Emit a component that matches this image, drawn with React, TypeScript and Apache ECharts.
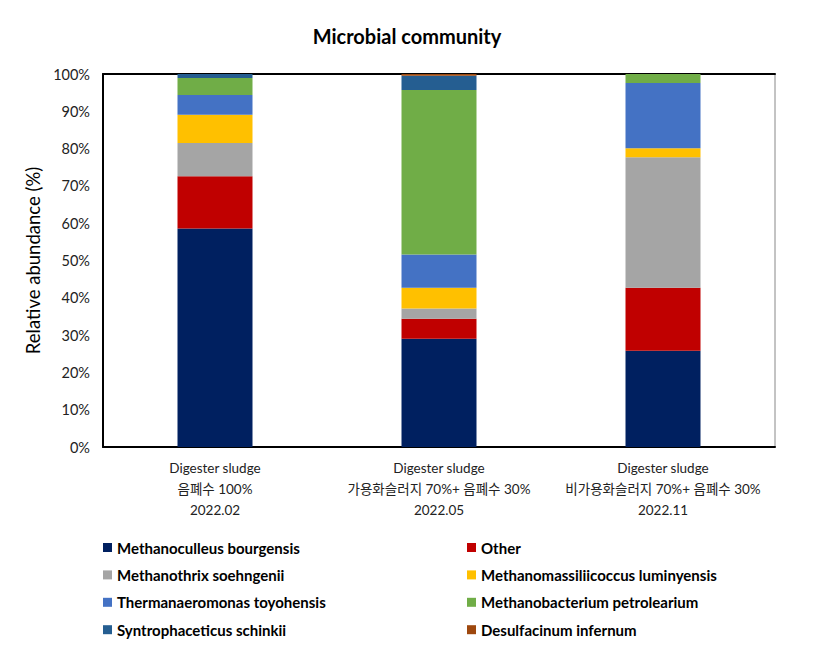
import React, { useEffect, useRef } from "react";
import * as echarts from "echarts";

const categories = [
  "Digester sludge\n음폐수 100%\n2022.02",
  "Digester sludge\n가용화슬러지 70%+ 음폐수 30%\n2022.05",
  "Digester sludge\n비가용화슬러지 70%+ 음폐수 30%\n2022.11",
];

const seriesNames = [
  "Methanoculleus bourgensis",
  "Other",
  "Methanothrix soehngenii",
  "Methanomassiliicoccus luminyensis",
  "Thermanaeromonas toyohensis",
  "Methanobacterium petrolearium",
  "Syntrophaceticus schinkii",
  "Desulfacinum infernum",
];

const methanoculleus = [58.6, 29.0, 25.8];
const other = [14.0, 5.4, 16.9];
const methanothrix = [8.9, 2.7, 35.0];
const methanomassiliicoccus = [7.6, 5.6, 2.4];
const thermanaeromonas = [5.3, 8.9, 17.5];
const methanobacterium = [4.5, 44.1, 2.4];
const syntrophaceticus = [1.1, 3.8, 0];
const desulfacinum = [0, 0.5, 0];

const seriesData = [
  methanoculleus,
  other,
  methanothrix,
  methanomassiliicoccus,
  thermanaeromonas,
  methanobacterium,
  syntrophaceticus,
  desulfacinum,
];

const colors = [
  "#002060",
  "#C00000",
  "#A5A5A5",
  "#FFC000",
  "#4472C4",
  "#70AD47",
  "#255E91",
  "#9E480E",
];

const FONT = "Lato, 'Noto Sans CJK KR', sans-serif";

export default function App() {
  const ref = useRef<HTMLDivElement>(null);
  useEffect(() => {
    if (!ref.current) return;
    const chart = echarts.init(ref.current, null, { renderer: "svg" });
    const legendText = {
      fontFamily: FONT,
      fontSize: 15,
      fontWeight: "bold" as const,
      color: "#000",
    };
    chart.setOption({
      animation: false,
      color: colors,
      title: {
        text: "Microbial community",
        left: "center",
        top: 21,
        textStyle: { fontFamily: FONT, fontSize: 20, fontWeight: "bold", color: "#000" },
      },
      grid: {
        left: 103,
        right: 39,
        top: 74,
        bottom: 219,
        show: true,
        borderColor: "#888",
        borderWidth: 1,
      },
      legend: [
        {
          orient: "vertical",
          left: 103,
          top: 540,
          padding: 0,
          itemWidth: 9,
          itemHeight: 9,
          itemGap: 12.4,
          icon: "rect",
          textStyle: legendText,
          data: [seriesNames[0], seriesNames[2], seriesNames[4], seriesNames[6]],
        },
        {
          orient: "vertical",
          left: 467,
          top: 540,
          padding: 0,
          itemWidth: 9,
          itemHeight: 9,
          itemGap: 12.4,
          icon: "rect",
          textStyle: legendText,
          data: [seriesNames[1], seriesNames[3], seriesNames[5], seriesNames[7]],
        },
      ],
      xAxis: [
        {
          type: "category",
          data: categories,
          axisLine: { show: true, lineStyle: { color: "#000", width: 2 } },
          axisTick: { show: false },
          axisLabel: {
            fontFamily: FONT,
            fontSize: 13.5,
            color: "#222",
            lineHeight: 21,
            margin: 10,
            interval: 0,
          },
        },
        {
          type: "category",
          data: categories,
          position: "top",
          axisLine: { show: true, lineStyle: { color: "#000", width: 2 } },
          axisTick: { show: false },
          axisLabel: { show: false },
        },
      ],
      yAxis: {
        type: "value",
        min: 0,
        max: 100,
        interval: 10,
        name: "Relative abundance (%)",
        nameLocation: "middle",
        nameGap: 57,
        nameTextStyle: { fontFamily: FONT, fontSize: 18.5, color: "#000" },
        axisLine: { show: true, lineStyle: { color: "#000", width: 2 } },
        axisTick: { show: false },
        splitLine: { show: false },
        axisLabel: {
          formatter: "{value}%",
          fontFamily: FONT,
          fontSize: 14.5,
          color: "#222",
          margin: 13,
        },
      },
      series: seriesNames.map((name, i) => ({
        name,
        type: "bar",
        stack: "total",
        barWidth: 75,
        data: seriesData[i],
        itemStyle: { color: colors[i] },
      })),
    });
    return () => chart.dispose();
  }, []);
  return (
    <div
      ref={ref}
      style={{ position: "absolute", left: 0, top: 0, width: 814, height: 666, background: "#fff" }}
    />
  );
}
